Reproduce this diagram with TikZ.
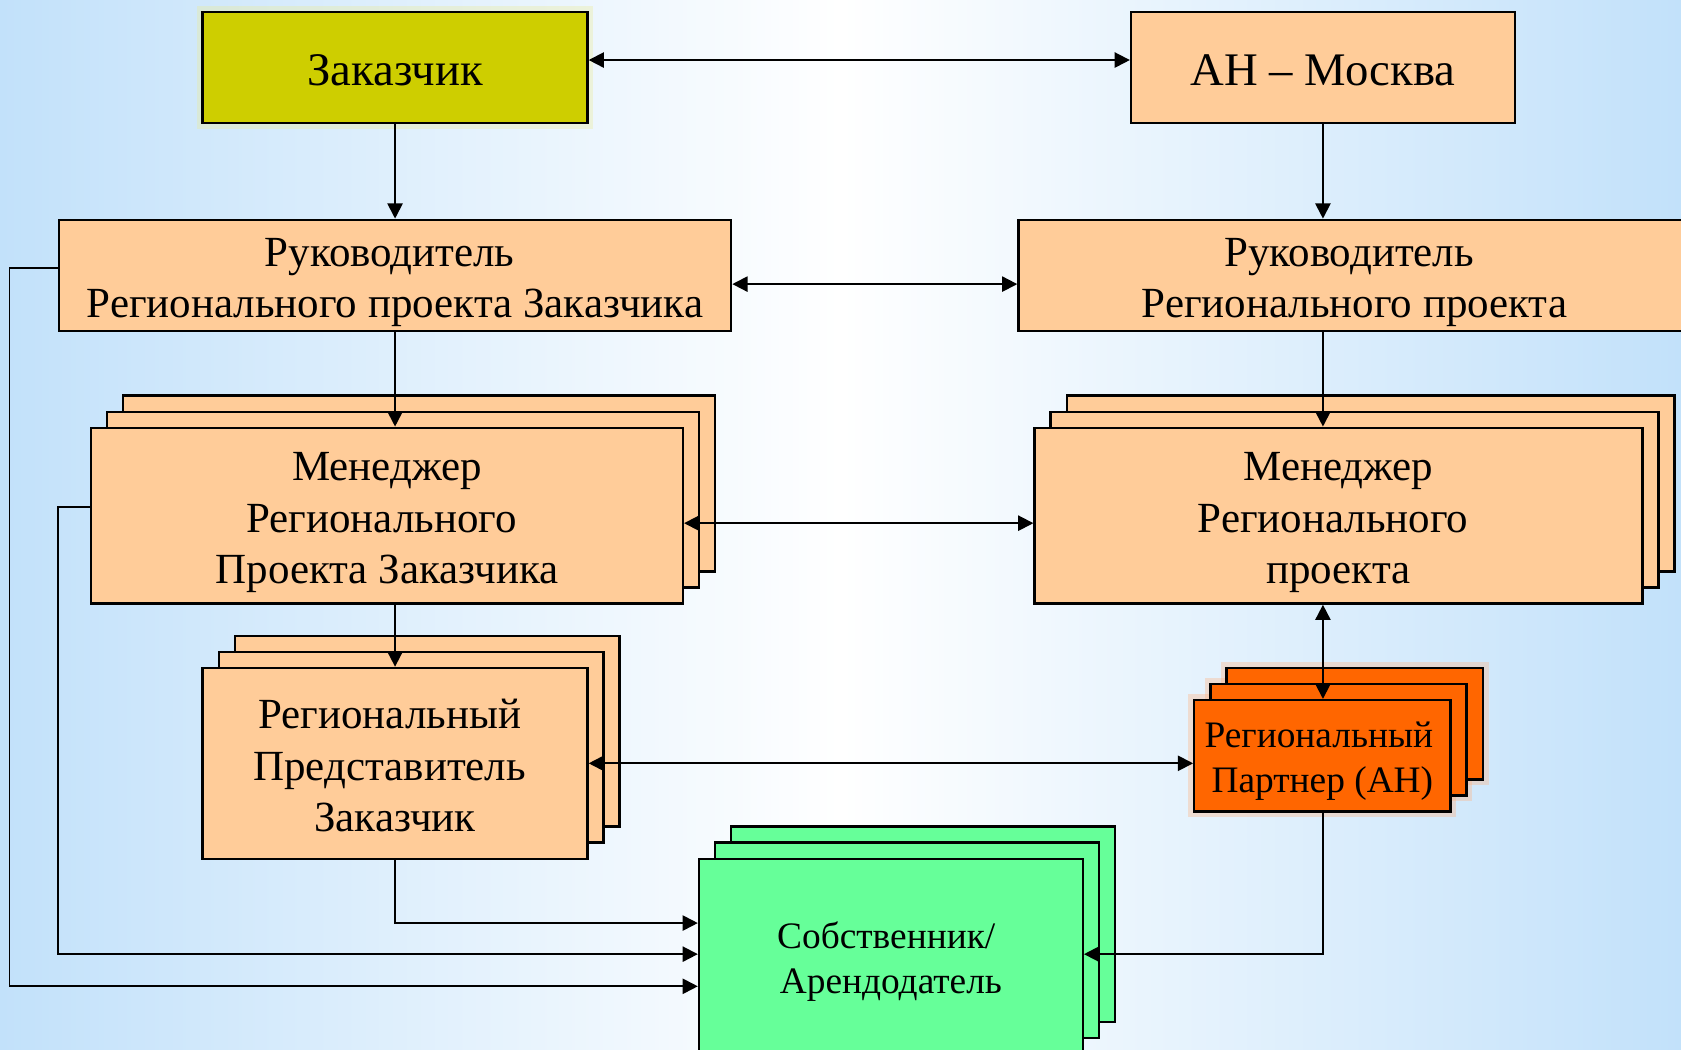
\documentclass[tikz,border=0pt]{standalone}
\usepackage{fontspec}
\setmainfont{Liberation Serif}
\usetikzlibrary{arrows.meta,calc}
\definecolor{peach}{RGB}{255,204,153}
\definecolor{olivebox}{RGB}{206,206,0}
\definecolor{orng}{RGB}{255,102,0}
\definecolor{grn}{RGB}{102,255,153}
\definecolor{bgblue}{RGB}{194,225,250}
\def\pxu{0.459pt}
\newcommand\stk[5]{%
  \draw[box,fill=#5] ({#1-#3/2+30},{#2-#4/2-30}) rectangle ({#1+#3/2+30},{#2+#4/2-30});
  \draw[box,fill=#5] ({#1-#3/2+15},{#2-#4/2-15}) rectangle ({#1+#3/2+15},{#2+#4/2-15});}
\newcommand\tsp{\kern4.6pt}
\newcommand\lowtxt[2]{\raisebox{-#1}[\height][\depth]{\begin{tabular}{@{}c@{}}#2\end{tabular}}}
\begin{document}
\begin{tikzpicture}[x=0.459pt,y=-0.459pt,
  box/.style={draw=black,line width=1pt},
  nd/.style={box,inner sep=0pt,font=\fontsize{18.4}{22}\selectfont},
  sm/.style={font=\fontsize{16}{19.3}\selectfont},
  big/.style={font=\fontsize{20}{24}\selectfont},
  tip/.tip={Triangle[length=6.5pt,width=6.5pt]},
  arr/.style={line width=0.8pt,-tip},
  darr/.style={line width=0.8pt,tip-tip},
  halo/.style={line width=5pt,draw=#1,opacity=0.35}
]
\useasboundingbox (0,0) rectangle (1568,979);
\shade[left color=bgblue,right color=bgblue,middle color=white] (0,0) rectangle (1568,979);

% top row
\draw[halo=olivebox!40] (189,11) rectangle (548,115);
\node[nd,big,fill=olivebox,minimum width={359*\pxu},minimum height={104*\pxu}] (zak) at (368.5,63) {\lowtxt{2.8pt}{Заказчик}};
\node[nd,big,fill=peach,minimum width={358*\pxu},minimum height={104*\pxu}] (anm) at (1234,63) {\lowtxt{2.8pt}{АН – Москва}};

% second row
\node[nd,fill=peach,minimum width={627*\pxu},minimum height={104*\pxu}] (rl) at (368.5,257) {\lowtxt{2.75pt}{Руководитель\tsp\\Регионального проекта Заказчика}};
\node[nd,fill=peach,minimum width={627*\pxu},minimum height={104*\pxu}] (rr) at (1263.5,257) {\lowtxt{2.75pt}{Руководитель\tsp\\Регионального проекта}};

% managers
\stk{361}{481}{552}{164}{peach}
\node[nd,fill=peach,minimum width={552*\pxu},minimum height={164*\pxu}] (ml) at (361,481) {\lowtxt{2.75pt}{Менеджер\\Регионального\tsp\\Проекта Заказчика}};
\stk{1248.5}{481}{567}{164}{peach}
\node[nd,fill=peach,minimum width={567*\pxu},minimum height={164*\pxu}] (mr) at (1248.5,481) {\lowtxt{2.75pt}{Менеджер\\Регионального\tsp\\проекта}};

% representative
\stk{368.5}{712}{359}{178}{peach}
\node[nd,fill=peach,minimum width={359*\pxu},minimum height={178*\pxu}] (pr) at (368.5,712) {\lowtxt{2.75pt}{Региональный\tsp\\Представитель\tsp\\Заказчик}};

% partner
\draw[halo=orng!50] (1144,623) rectangle (1383,727);
\draw[halo=orng!50] (1129,638) rectangle (1368,742);
\draw[halo=orng!50] (1114,653) rectangle (1353,757);
\stk{1233.5}{705}{239}{104}{orng}
\node[nd,sm,fill=orng,minimum width={239*\pxu},minimum height={104*\pxu}] (pa) at (1233.5,705) {\lowtxt{2.3pt}{Региональный\kern3pt\\Партнер (АН)}};

% owner
\stk{831}{892}{358}{182}{grn}
\node[nd,sm,fill=grn,minimum width={358*\pxu},minimum height={182*\pxu}] (sob) at (831,892) {\lowtxt{2.3pt}{Собственник/\kern4pt\\Арендодатель}};

\coordinate (s1) at ($(sob.west)+(0,-31)$);
\coordinate (s2) at ($(sob.west)+(0,-2)$);
\coordinate (s3) at ($(sob.west)+(0,28)$);
\coordinate (se) at ($(sob.east)+(0,-2)$);

% connectors
\draw[darr] ($(zak.east)+(0,-7)$) -- ($(anm.west)+(0,-7)$);
\draw[arr] (zak.south) -- (rl.north);
\draw[arr] (anm.south) -- (anm.south |- rr.north);
\draw[darr] ($(rl.east)+(0,8)$) -- ($(rr.west)+(0,8)$);
\draw[arr] (rl.south) -- (rl.south |- ml.north);
\draw[arr] (anm.south |- rr.south) -- (anm.south |- mr.north);
\draw[darr] ($(ml.east)+(0,7)$) -- ($(mr.west)+(0,7)$);
\draw[arr] (rl.south |- ml.south) -- (rl.south |- pr.north);
\draw[darr] (anm.south |- mr.south) -- (anm.south |- pa.north);
\draw[darr] (pr.east) -- (pr.east -| pa.west);
\draw[arr] (pr.south) |- (s1);
\draw[arr] ($(ml.west)+(0,-8)$) -- ++(-30,0) |- (s2);
\draw[arr] ($(rl.west)+(0,-7)$) -- ++(-45,0) |- (s3);
\draw[arr] (anm.south |- pa.south) |- (se);
\end{tikzpicture}
\end{document}
